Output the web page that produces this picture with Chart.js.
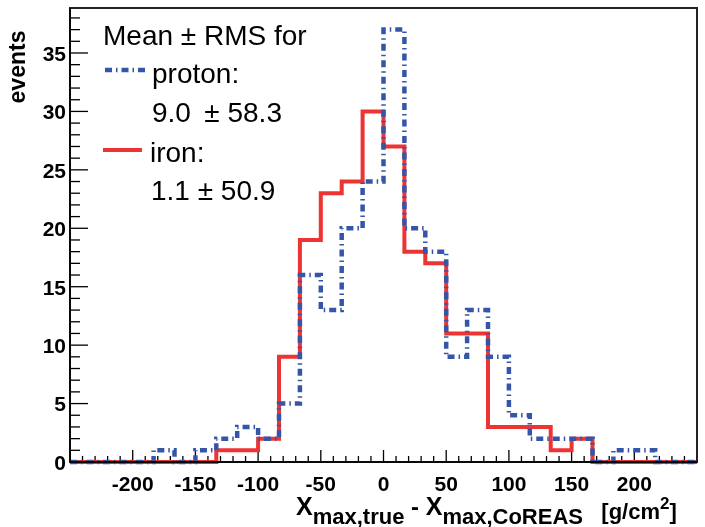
<!DOCTYPE html>
<html>
<head>
<meta charset="utf-8">
<script src="https://cdn.jsdelivr.net/npm/chart.js@4.4.0/dist/chart.umd.min.js"></script>
<style>
html,body{margin:0;padding:0;background:#fff;}
#wrap{width:705px;height:527px;}
</style>
</head>
<body>
<div id="wrap"><canvas id="myChart" width="705" height="527"></canvas></div>
<script>
// histogram: 30 bins between -250 and 250 g/cm2
const xMin=-250, xMax=250, nBins=30;
const protonCounts=[0,0,0,0,1,0,1,2,3,2,5,16,13,20,24,37,20,18,9,13,9,4,2,2,2,0,1,1,0,0];
const ironCounts=[0,0,0,0,0,0,0,1,1,2,9,19,23,24,30,27,18,17,11,11,3,3,3,1,2,0,0,0,0,0];
const xTickLabels=[-200,-150,-100,-50,0,50,100,150,200];
const yTickLabels=[0,5,10,15,20,25,30,35];
const protonStats='9.0 \u2009± 58.3';
const ironStats='1.1 ± 50.9';

const narrow="'Liberation Sans Narrow','Arial Narrow','Liberation Sans',Arial,sans-serif";
const sans="'Liberation Sans',Arial,sans-serif";
const blue='#3556a8', red='#ee3333';
const protonDash=[7,4,1.5,4];

function steps(counts){
  const w=(xMax-xMin)/nBins;
  const pts=counts.map((c,i)=>({x:xMin+i*w,y:c}));
  pts.push({x:xMax,y:counts[counts.length-1]});
  return pts;
}

function line(ctx,x1,y1,x2,y2){ctx.beginPath();ctx.moveTo(x1,y1);ctx.lineTo(x2,y2);ctx.stroke();}

function noPad(s){s.paddingTop=0;s.paddingBottom=0;s.paddingLeft=0;s.paddingRight=0;}

const axesPlugin={
  id:'rootAxes',
  beforeDatasetsDraw(chart){
    const {ctx,chartArea:a,scales:{x,y}}=chart;
    ctx.save();
    ctx.strokeStyle='#000';ctx.lineWidth=1.3;
    for(let v=xMin+10;v<xMax;v+=10){
      const px=x.getPixelForValue(v);
      line(ctx,px,a.bottom,px,a.bottom-(v%50===0?12:6));
    }
    for(let v=1;v<=38;v++){
      const py=y.getPixelForValue(v);
      line(ctx,a.left,py,a.left+(v%5===0?18:10),py);
    }
    ctx.restore();
  },
  afterDraw(chart){
    const {ctx,chartArea:a}=chart;
    ctx.save();
    ctx.strokeStyle='#222';ctx.lineWidth=2;
    ctx.strokeRect(a.left,a.top,a.right-a.left,a.bottom-a.top);
    ctx.strokeStyle='#000';ctx.lineWidth=1.5;
    line(ctx,a.left,a.top,a.left,a.bottom);
    line(ctx,a.left,a.bottom,a.right,a.bottom);

    // legend box text
    ctx.fillStyle='#000';ctx.textBaseline='alphabetic';ctx.textAlign='left';
    ctx.font='28px '+sans;
    ctx.fillText('Mean ± RMS for',103,45);
    ctx.fillText('proton:',152,83);
    ctx.fillText(protonStats,152,122);
    ctx.fillText('iron:',150,162);
    ctx.fillText(ironStats,151,200);
    ctx.lineWidth=4.5;ctx.strokeStyle=blue;ctx.setLineDash(protonDash);
    line(ctx,105,70,146,70);
    ctx.setLineDash([]);ctx.lineWidth=4;ctx.strokeStyle=red;
    line(ctx,103,150,142,150);

    // y title
    ctx.fillStyle='#000';
    ctx.save();
    ctx.translate(19,67);ctx.rotate(-Math.PI/2);
    ctx.font='bold 23px '+sans;ctx.textAlign='center';ctx.textBaseline='middle';
    ctx.fillText('events',0,0);
    ctx.restore();

    // x title with sub/superscripts
    let cx=296;
    const parts=[
      ['X','bold 25px '+narrow,515],
      ['max,true','bold 22px '+narrow,524],
      [' - ','bold 24px '+narrow,515],
      ['X','bold 25px '+narrow,515],
      ['max,CoREAS','bold 22px '+narrow,524],
      ['   [g/cm','bold 22px '+narrow,519],
      ['2','bold 17px '+narrow,509],
      [']','bold 22px '+narrow,519]
    ];
    ctx.textAlign='left';ctx.textBaseline='alphabetic';
    for(const [t,f,by] of parts){
      ctx.font=f;ctx.fillText(t,cx,by);cx+=ctx.measureText(t).width;
    }
    ctx.restore();
  }
};

const ctx=document.getElementById('myChart').getContext('2d');
const myChart=new Chart(ctx,{
  type:'line',
  data:{
    datasets:[
      {label:'proton',data:steps(protonCounts),borderColor:blue,borderWidth:4.5,borderDash:protonDash,
       stepped:'before',pointRadius:0,fill:false,clip:false,order:0},
      {label:'iron',data:steps(ironCounts),borderColor:red,borderWidth:4,
       stepped:'before',pointRadius:0,fill:false,clip:false,order:1}
    ]
  },
  options:{
    responsive:false,
    animation:false,
    devicePixelRatio:1,
    layout:{padding:{top:8,right:8,left:0,bottom:0}},
    plugins:{legend:{display:false},tooltip:{enabled:false}},
    scales:{
      x:{
        type:'linear',min:xMin,max:xMax,
        grid:{display:false,drawTicks:false},
        border:{display:false},
        afterBuildTicks(s){s.ticks=xTickLabels.map(v=>({value:v}));},
        afterFit(s){s.height=65;noPad(s);},
        ticks:{color:'#000',padding:11,maxRotation:0,autoSkip:false,
          font:{family:narrow,size:21,weight:'bold'}}
      },
      y:{
        type:'linear',min:0,max:38.85,
        grid:{display:false,drawTicks:false},
        border:{display:false},
        afterBuildTicks(s){s.ticks=yTickLabels.map(v=>({value:v}));},
        afterFit(s){s.width=70;noPad(s);},
        ticks:{color:'#000',padding:4,labelOffset:2,autoSkip:false,
          font:{family:narrow,size:21,weight:'bold'}}
      }
    }
  },
  plugins:[axesPlugin]
});
</script>
</body>
</html>
